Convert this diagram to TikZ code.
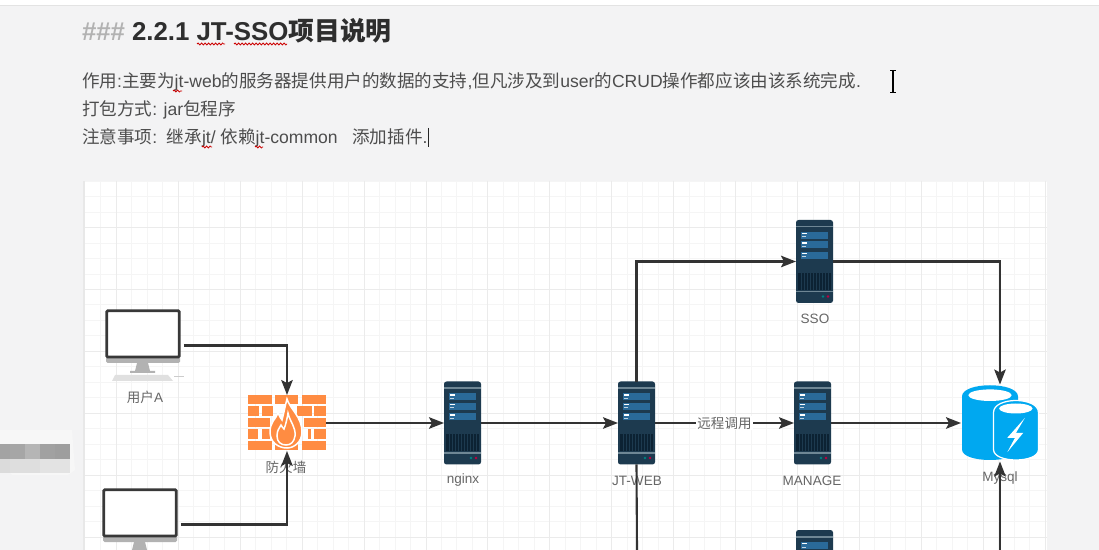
\documentclass[tikz,border=0pt]{standalone}
\usepackage{fontspec}
\usepackage{amsmath}
\setmainfont{Liberation Sans}
\newfontfamily\cjk{Noto Sans CJK SC}
\usetikzlibrary{arrows.meta,decorations.pathmorphing}
\definecolor{pagebg}{HTML}{F3F3F4}
\definecolor{srvbody}{HTML}{1D3A4F}
\definecolor{srvbar}{HTML}{2A6A99}
\definecolor{srvvent}{HTML}{0C2233}
\definecolor{srvline}{HTML}{6F8795}
\definecolor{brick}{HTML}{FF8C42}
\definecolor{dbblue}{HTML}{00A8F0}
\definecolor{bodytext}{HTML}{4D4D4D}
\tikzset{
  gridfine/.style={draw=black!4, line width=0.012cm},
  gridbold/.style={draw=black!8, line width=0.018cm},
  link/.style={draw=black!80, line width=0.042cm, ->},
  squiggle/.style={draw=red!80!black, line width=0.016cm, decorate, decoration={snake, segment length=0.07cm, amplitude=0.02cm}},
  doctext/.style={anchor=base west, inner sep=0, outer sep=0, text=bodytext, font=\fontsize{10}{12}\selectfont},
  icontext/.style={inner sep=0, outer sep=0, text=black!60, font=\fontsize{7.7}{9}\selectfont},
  iconbox/.style={rectangle, inner sep=0, outer sep=0, minimum width=#1},
  srvbox/.style={iconbox=0.74cm, minimum height=1.66cm},
  pcbox/.style={iconbox=1.56cm, minimum height=1.42cm},
  wallbox/.style={iconbox=1.56cm, minimum height=1.12cm},
  dbbox/.style={iconbox=1.56cm, minimum height=1.54cm},
  pics/srv/.style={code={
    \begin{scope}[shift={(-18.5,-41.5)}]
      \fill [srvbody, rounded corners=0.05cm] (0,0) rectangle (37,83);
      \fill [srvline] (0,6) rectangle (37,7.5);
      \foreach \by in {12,21.5,32} {
        \fill [srvbar] (5,\by) rectangle (32,\by+7);
        \fill [white] (6,\by+1) rectangle (11,\by+2.2);
        \fill [white!70!srvbar] (6,\by+4.5) rectangle (10,\by+5.5);
      }
      \fill [srvvent] (2,53) rectangle (35,70);
      \foreach \vx in {5,8,...,33} \draw [srvbody, line width=0.006cm] (\vx,53) -- (\vx,70);
      \fill [srvline] (0,71) rectangle (37,72.5);
      \fill [teal] (27,76.5) circle [radius=1.3];
      \fill [purple] (32,76.5) circle [radius=1.3];
    \end{scope}
    \node [srvbox] (box) at (0,0) {};}},
  pics/pc/.style={code={
    \begin{scope}[shift={(-39,-35.5)}]
      \fill [black!30, rounded corners=0.03cm] (0,44) rectangle (74,53);
      \draw [black!78, fill=white, line width=0.055cm, rounded corners=0.02cm] (0.8,0.8) rectangle (73.2,47);
      \fill [black!30] (31,53) -- (42,53) -- (44,61) -- (49,61) -- (49,63) -- (24,63) -- (24,61) -- (29,61) -- cycle;
      \fill [black!12] (9,65) -- (62,65) -- (67,71) -- (6,71) -- cycle;
      \fill [black!20] (68,66) rectangle (78,67.5);
    \end{scope}
    \node [pcbox] (box) at (0,0) {};}},
  pics/firewall/.style={code={
    \begin{scope}[shift={(-39,-28)}]
      \foreach \rx/\ry/\rw in {0/0/24,27/0/23,54/0/24,
                               0/11.5/11,14/11.5/11,49/11.5/15,66/11.5/12,
                               0/23/22,56/23/22,
                               0/34.5/10,14/34.5/8,60/34.5/3,66/34.5/12,
                               0/46/24,27/46/23,54/46/24}
        \fill [brick] (\rx,\ry) rectangle ++(\rw,9.3);
      \path [fill=brick, draw=white, line width=0.03cm] (39,4) .. controls (42,14) and (54,22) .. (54,37)
        .. controls (54,47) and (46,53) .. (39,53) .. controls (30,53) and (22,47) .. (22,37)
        .. controls (22,27) and (28,24) .. (30,18) .. controls (32,22) and (33,24) .. (34,25)
        .. controls (36,18) and (37,11) .. (39,4) -- cycle;
      \path [fill=brick, draw=white, line width=0.03cm] (40,18) .. controls (42,27) and (48,32) .. (47,41)
        .. controls (46,47) and (43,50) .. (38,50) .. controls (33,50) and (29,47) .. (29,41)
        .. controls (29,36) and (31,33) .. (33,30) .. controls (34,32) and (35,33) .. (36,34)
        .. controls (38,29) and (39,24) .. (40,18) -- cycle;
    \end{scope}
    \node [wallbox] (box) at (0,0) {};}},
  pics/database/.style={code={
    \begin{scope}[shift={(-39,-38.5)}]
      \fill [dbblue] (1,12) .. controls (1,-3) and (57,-3) .. (57,12) -- (57,65)
        .. controls (57,79) and (1,79) .. (1,65) -- cycle;
      \fill [white] (29,10.7) ellipse [x radius=21.7, y radius=5.8];
      \path [fill=dbblue, draw=white, line width=0.025cm] (32.5,28) .. controls (32.5,12) and (77.5,12) .. (77.5,28)
        -- (77.5,65) .. controls (77.5,79) and (32.5,79) .. (32.5,65) -- cycle;
      \fill [white] (54.8,24) ellipse [x radius=16.7, y radius=5];
      \fill [white] (64,33.3) -- (46.3,53.3) -- (54,53.3) -- (46.3,67.7) -- (62.3,48.3) -- (55,48.3) -- cycle;
    \end{scope}
    \node [dbbox] (box) at (0,0) {};}}
}
\begin{document}
\begin{tikzpicture}[x=0.02cm, y=-0.02cm, >={Stealth[length=0.3cm, width=0.23cm, inset=0.06cm]}]
    \useasboundingbox (0,0) rectangle (1099,550);
    \clip (0,0) rectangle (1099,550);

    % page
    \fill [pagebg] (0,0) rectangle (1099,550);
    \fill [white] (0,0) rectangle (1099,5);
    \fill [black!11] (0,5) rectangle (1099,6.5);

    % blurred patch
    \fill [black!3] (0,430) -- (72,430) -- (75,470) -- (68,475) -- (12,475) -- (0,462) -- cycle;
    \foreach \bx/\bw/\bg in {0/10/36,10/15/35,25/15/29,40/15/37,55/15/38} {
        \fill [black!\bg] (\bx,444) rectangle ++(\bw,15);
    }
    \foreach \bx/\bw/\bg in {0/10/14,10/15/13,25/15/13,40/15/11,55/15/11} {
        \fill [black!\bg] (\bx,459) rectangle ++(\bw,14);
    }

    % squared paper
    \fill [white] (84,181) rectangle (1047,550);
    \fill [black!9] (83,181) rectangle (85,550);
    \foreach \gx in {0,...,61} \draw [gridfine] (1045-\gx*15.48,181) -- (1045-\gx*15.48,550);
    \foreach \gy in {0,...,23} \draw [gridfine] (85,537-\gy*15.48) -- (1047,537-\gy*15.48);
    \foreach \gx in {0,...,15} \draw [gridbold] (1045-\gx*61.9,181) -- (1045-\gx*61.9,550);
    \foreach \gy in {0,...,5} \draw [gridbold] (85,537-\gy*61.9) -- (1047,537-\gy*61.9);

    % the note above the diagram
    \node [doctext, text=black!30, font=\fontsize{14.7}{17}\selectfont\bfseries] (hashes) at (82,41) {\#\#\#};
    \node [doctext, text=black!82, font=\fontsize{14.7}{17}\selectfont\bfseries] (title) at (132,41) {2.2.1 JT-SSO{\cjk 项目说明}};
    \node [doctext] (lineone) at (82,88) {{\cjk 作用}:{\cjk 主要为}jt-web{\cjk 的服务器提供用户的数据的支持},{\cjk 但凡涉及到}user{\cjk 的}CRUD{\cjk 操作都应该由该系统完成}.};
    \node [doctext] (linetwo) at (82,116) {{\cjk 打包方式}: jar{\cjk 包程序}};
    \node [doctext] (linethree) at (82,144) {{\cjk 注意事项}:~~{\cjk 继承}jt/ {\cjk 依赖}jt-common~~~{\cjk 添加插件}.};

    \draw [squiggle] (197,44) -- (225,44);
    \draw [squiggle] (234,44) -- (287,44);
    \draw [squiggle] (173,91) -- (182,91);
    \draw [squiggle] (202,147) -- (212,147);
    \draw [squiggle] (255,147) -- (263,147);

    % carets
    \draw [black!85, line width=0.014cm] (428,128) -- (428,147);
    \draw [black, line width=0.024cm] (893,71) -- (893,92);
    \draw [black, line width=0.014cm] (890,70.5) -- (896,70.5);
    \draw [black, line width=0.014cm] (890,92.5) -- (896,92.5);

    % icons
    \pic (pca) at (145,345.5) {pc};
    \pic (pcb) at (142,524.5) {pc};
    \pic (wall) at (287,423) {firewall};
    \pic (nginx) at (462.5,423) {srv};
    \pic (jtweb) at (636.5,423) {srv};
    \pic (sso) at (814.5,261.5) {srv};
    \pic (manage) at (812.5,423) {srv};
    \pic (srvc) at (814.5,571.5) {srv};
    \pic (mysql) at (1000,423) {database};

    \node [icontext] (pcatext) at (145,397) {{\cjk 用户}A};
    \node [icontext] (walltext) at (286,467) {\cjk 防火墙};
    \node [icontext] (nginxtext) at (463,480.5) {nginx};
    \node [icontext] (jtwebtext) at (637,480.5) {JT-WEB};
    \node [icontext] (ssotext) at (815,318.5) {SSO};
    \node [icontext] (managetext) at (812,480.5) {MANAGE};
    \node [icontext] (mysqltext) at (1000,478.5) {Mysql};

    \coordinate (jtdown) at (637,550);
    \coordinate (mysqlup) at (1000,550);

    % connectors
    \draw [link] (pcabox.east) -| (wallbox.north);
    \draw [link] (pcbbox.east) -| (wallbox.south);
    \draw [link] (wallbox.east) -- (nginxbox.west);
    \draw [link] (nginxbox.east) -- (jtwebbox.west);
    \draw [link] (jtwebbox.east) -- (managebox.west) node [midway, icontext, fill=white, inner xsep=0.02cm, inner ysep=0.02cm] (calltext) {\cjk 远程调用};
    \draw [link] (jtwebbox.north) |- (ssobox.west);
    \draw [link] (ssobox.east) -| (mysqlbox.north);
    \draw [link] (managebox.east) -- (mysqlbox.west);
    \draw [link, -] (jtwebbox.south) -- (jtdown);
    \draw [link] (mysqlup) -- (mysqlbox.south);
\end{tikzpicture}
\end{document}
